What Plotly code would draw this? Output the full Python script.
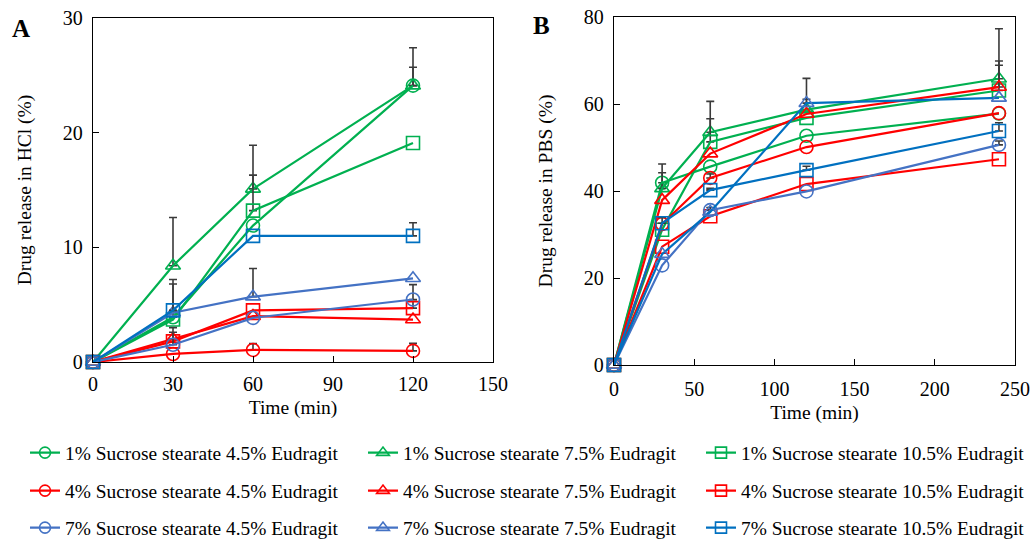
import plotly.graph_objects as go

# ---------------- data ----------------
time_a = [0, 30, 60, 120]
time_b = [0, 30, 60, 120, 240]

names = [
    "1% Sucrose stearate 4.5% Eudragit", "1% Sucrose stearate 7.5% Eudragit", "1% Sucrose stearate 10.5% Eudragit",
    "4% Sucrose stearate 4.5% Eudragit", "4% Sucrose stearate 7.5% Eudragit", "4% Sucrose stearate 10.5% Eudragit",
    "7% Sucrose stearate 4.5% Eudragit", "7% Sucrose stearate 7.5% Eudragit", "7% Sucrose stearate 10.5% Eudragit",
]

# Panel A: release in HCl (%)
hcl_1_45 = [0, 3.9, 11.9, 24.1]
hcl_1_75 = [0, 8.4, 15.1, 24.1]
hcl_1_105 = [0, 3.7, 13.2, 19.1]
hcl_4_45 = [0, 0.7, 1.05, 0.97]
hcl_4_75 = [0, 2.0, 4.0, 3.7]
hcl_4_105 = [0, 1.8, 4.5, 4.7]
hcl_7_45 = [0, 1.5, 3.85, 5.45]
hcl_7_75 = [0, 4.3, 5.7, 7.3]
hcl_7_105 = [0, 4.5, 11.0, 11.0]

hcl_1_45_err = [None, 3.3, None, 3.3]
hcl_1_75_err = [None, 4.2, 3.8, 1.6]
hcl_1_105_err = [None, None, 3.1, None]
hcl_4_45_err = [None, None, 0.55, 0.65]
hcl_4_75_err = [None, 1.0, None, None]
hcl_4_105_err = [None, None, None, 0.6]
hcl_7_45_err = [None, 1.1, None, 1.3]
hcl_7_75_err = [None, None, 2.45, None]
hcl_7_105_err = [None, 2.3, None, 1.15]

# Panel B: release in PBS (%)
pbs_1_45 = [0, 41.9, 45.6, 52.7, 57.8]
pbs_1_75 = [0, 40.6, 53.5, 58.7, 65.8]
pbs_1_105 = [0, 31.1, 51.3, 56.8, 63.1]
pbs_4_45 = [0, 32.4, 43.0, 50.1, 57.9]
pbs_4_75 = [0, 37.9, 48.6, 57.7, 63.9]
pbs_4_105 = [0, 27.2, 34.2, 41.6, 47.3]
pbs_7_45 = [0, 22.9, 35.6, 39.9, 50.6]
pbs_7_75 = [0, 25.5, 35.2, 60.2, 61.4]
pbs_7_105 = [0, 32.6, 40.2, 44.8, 53.8]

pbs_1_45_err = [None, 4.3, None, None, None]
pbs_1_75_err = [None, 3.6, 7.1, 7.2, 11.5]
pbs_1_105_err = [None, None, 5.3, None, 5.8]
pbs_4_45_err = [None, None, 0.9, None, None]
pbs_4_75_err = [None, None, None, None, 6.0]
pbs_4_105_err = [None, None, None, None, None]
pbs_7_45_err = [None, None, 0.6, None, 0.9]
pbs_7_75_err = [None, None, None, 0.9, None]
pbs_7_105_err = [None, 1.3, 0.4, 0.9, 1.9]

hcl = [hcl_1_45, hcl_1_75, hcl_1_105, hcl_4_45, hcl_4_75, hcl_4_105, hcl_7_45, hcl_7_75, hcl_7_105]
hcl_err = [hcl_1_45_err, hcl_1_75_err, hcl_1_105_err, hcl_4_45_err, hcl_4_75_err, hcl_4_105_err,
           hcl_7_45_err, hcl_7_75_err, hcl_7_105_err]
pbs = [pbs_1_45, pbs_1_75, pbs_1_105, pbs_4_45, pbs_4_75, pbs_4_105, pbs_7_45, pbs_7_75, pbs_7_105]
pbs_err = [pbs_1_45_err, pbs_1_75_err, pbs_1_105_err, pbs_4_45_err, pbs_4_75_err, pbs_4_105_err,
           pbs_7_45_err, pbs_7_75_err, pbs_7_105_err]

# ---------------- style ----------------
GREEN, RED, STEEL, BLUE = "#00B050", "#FF0000", "#4472C4", "#0070C0"
colors = [GREEN, GREEN, GREEN, RED, RED, RED, STEEL, STEEL, BLUE]
colors_b_line = [GREEN, GREEN, GREEN, RED, RED, RED, STEEL, BLUE, BLUE]
symbols = ["circle-open", "triangle-up-open", "square-open"] * 3
FONT = "Liberation Serif, Times New Roman, serif"
ERR_COLOR = "#3a3a3a"
W, H = 1034, 539

fig = go.Figure()


def add_panel(xs, ys_list, errs_list, line_colors, xa, ya):
    for i, (ys, errs) in enumerate(zip(ys_list, errs_list)):
        ex = [x for x, e in zip(xs, errs) if e is not None]
        ey = [y for y, e in zip(ys, errs) if e is not None]
        ee = [e for e in errs if e is not None]
        if ex:
            fig.add_trace(go.Scatter(
                x=ex, y=ey, mode="markers", xaxis=xa, yaxis=ya,
                marker=dict(size=1, opacity=0), showlegend=False, hoverinfo="skip",
                error_y=dict(type="data", array=ee, arrayminus=[0] * len(ee), symmetric=False,
                             color=ERR_COLOR, thickness=1.6, width=4),
                cliponaxis=False,
            ))
        fig.add_trace(go.Scatter(
            x=xs, y=ys, mode="lines+markers", xaxis=xa, yaxis=ya,
            line=dict(color=line_colors[i], width=2.2),
            marker=dict(symbol=symbols[i], size=13, color=colors[i], line=dict(width=1.6, color=colors[i])),
            showlegend=False, cliponaxis=False, name=names[i],
        ))


add_panel(time_a, hcl, hcl_err, colors, "x", "y")
add_panel(time_b, pbs, pbs_err, colors_b_line, "x2", "y2")

legend_ids = ["legend", "legend2", "legend3"]
for i, nm in enumerate(names):
    fig.add_trace(go.Scatter(
        x=[None], y=[None], mode="lines+markers", name=nm,
        line=dict(color=colors[i], width=2.2),
        marker=dict(symbol=symbols[i], size=11, color=colors[i], line=dict(width=1.6, color=colors[i])),
        legend=legend_ids[i // 3], showlegend=True,
    ))

axis_common = dict(
    showline=True, linecolor="black", linewidth=1.3, mirror=True,
    ticks="inside", ticklen=6, tickcolor="black", tickwidth=1.3,
    showgrid=False, zeroline=False, automargin=False,
    tickfont=dict(family=FONT, size=20, color="black"),
    title_font=dict(family=FONT, size=19.5, color="black"),
)

fig.update_layout(
    width=W, height=H,
    margin=dict(l=0, r=0, t=0, b=0, autoexpand=False),
    paper_bgcolor="white", plot_bgcolor="white",
    font=dict(family=FONT, color="black", size=19),
    xaxis=dict(domain=[93 / W, 493 / W], range=[0, 150], dtick=30, anchor="y", ticklabelstandoff=4,
               title=dict(text="Time (min)", standoff=6), **axis_common),
    yaxis=dict(domain=[1 - 362 / H, 1 - 18 / H], range=[0, 30], dtick=10, anchor="x", ticklabelstandoff=5,
               title=dict(text="Drug release in HCl (%)", standoff=26), **axis_common),
    xaxis2=dict(domain=[614 / W, 1015 / W], range=[0, 250], dtick=50, anchor="y2", ticklabelstandoff=6,
                title=dict(text="Time (min)", standoff=6), **axis_common),
    yaxis2=dict(domain=[1 - 365 / H, 1 - 17 / H], range=[0, 80], dtick=20, anchor="x2", ticklabelstandoff=5,
                title=dict(text="Drug release in PBS (%)", standoff=26), **axis_common),
)

row_y = [453, 491, 528]
for lid, ry in zip(legend_ids, row_y):
    fig.update_layout({lid: dict(
        orientation="h", x=25 / W, y=1 - ry / H, xanchor="left", yanchor="middle",
        entrywidth=293, entrywidthmode="pixels",
        font=dict(family=FONT, size=19.4, color="black"),
        bgcolor="rgba(0,0,0,0)", borderwidth=0, itemclick=False, itemdoubleclick=False,
        traceorder="normal",
    )})

fig.add_annotation(text="<b>A</b>", x=21 / W, y=1 - 28 / H, xref="paper", yref="paper",
                   xanchor="center", yanchor="middle",
                   showarrow=False, font=dict(family=FONT, size=25, color="black"))
fig.add_annotation(text="<b>B</b>", x=541 / W, y=1 - 25 / H, xref="paper", yref="paper",
                   xanchor="center", yanchor="middle",
                   showarrow=False, font=dict(family=FONT, size=25, color="black"))

fig.write_html("out.html", config={"displayModeBar": False},
               post_script="document.body.style.margin='0px';")
